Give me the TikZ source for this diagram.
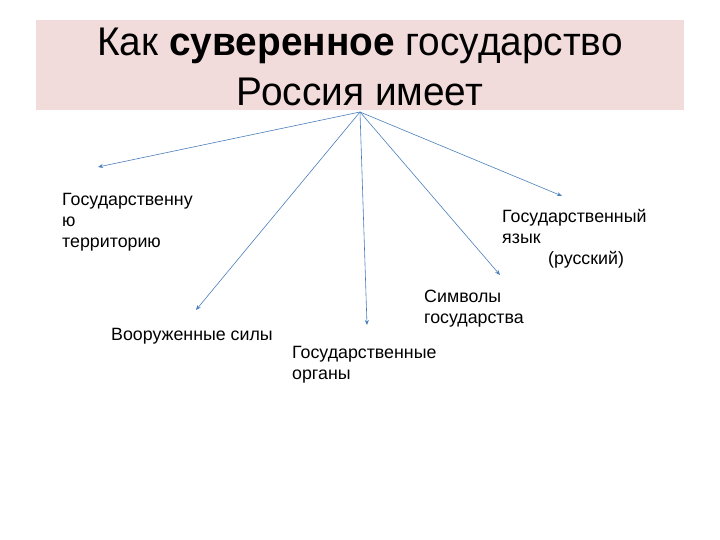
\documentclass[tikz,border=0pt]{standalone}
\usepackage{fontspec}
\setmainfont{Liberation Sans}
\usepackage{tikz}
\usetikzlibrary{arrows.meta}

\definecolor{titlepink}{RGB}{242,220,219}
\definecolor{arrowblue}{RGB}{74,126,187}

\begin{document}
\begin{tikzpicture}[x=1pt,y=-1pt,
	branch/.style={draw=arrowblue, line width=0.6pt, -{Stealth[length=5pt,width=4pt]}},
	item/.style={anchor=north west, inner sep=0pt, align=left,
		font=\fontsize{17.8}{21}\selectfont}]
			\useasboundingbox (0,0) rectangle (720,540);
			
			% Title box
			\fill[titlepink] (36,20) rectangle (684,110);
			\node[align=center, inner sep=0pt, font=\fontsize{40}{50}\selectfont, xscale=0.97] (title) at (360,67)
			{Как \textbf{суверенное} государство\\Россия имеет};
			
			% Root of the arrows
			\coordinate (R) at (360,112);
			
			% Arrow ends
			\coordinate (E1) at (98,167);
			\coordinate (E2) at (196,310);
			\coordinate (E3) at (367,325);
			\coordinate (E4) at (500,275);
			\coordinate (E5) at (562,196);
			
			% Items
			\node[item] (territory) at (62,193) {Государственну\\ю\\территорию};
			\node[item] (army) at (111,328) {Вооруженные силы};
			\node[item] (organs) at (292,346) {Государственные\\органы};
			\node[item] (symbols) at (424,290) {Символы\\государства};
			\node[item] (language) at (502,209) {Государственный\\язык\\\hspace*{46pt}(русский)};
			
			% Arrows
			\foreach \e in {E1,E2,E3,E4,E5}
				\draw[branch] (R) -- (\e);
			
		\end{tikzpicture}
\end{document}
